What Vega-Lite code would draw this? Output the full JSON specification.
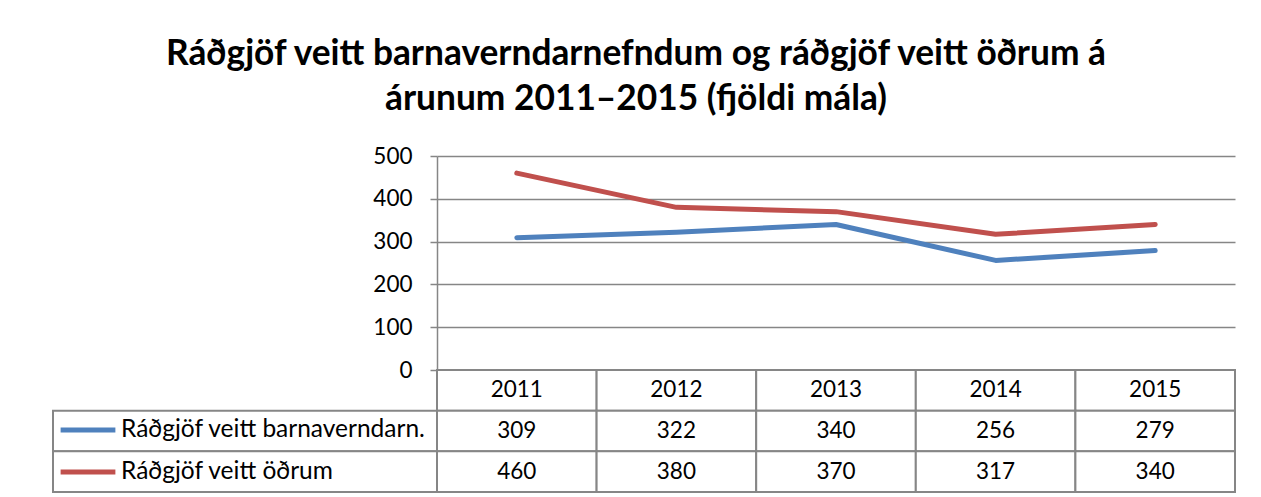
{
  "$schema": "https://vega.github.io/schema/vega-lite/v6.json",
  "background": "white",
  "padding": {"left": 52, "top": 36, "right": 20, "bottom": 5},
  "config": {
    "view": {"stroke": null},
    "font": "Lato",
    "text": {"font": "Lato"}
  },
  "title": {
    "text": ["Ráðgjöf veitt barnaverndarnefndum og ráðgjöf veitt öðrum á", "árunum 2011–2015 (fjöldi mála)"],
    "font": "Lato",
    "fontSize": 35.3,
    "fontWeight": "bold",
    "color": "black",
    "lineHeight": 45,
    "anchor": "middle",
    "dx": -8,
    "offset": 28
  },
  "datasets": {
    "series": [
      {"series": "Ráðgjöf veitt barnaverndarn.", "year": "2011", "value": 309},
      {"series": "Ráðgjöf veitt barnaverndarn.", "year": "2012", "value": 322},
      {"series": "Ráðgjöf veitt barnaverndarn.", "year": "2013", "value": 340},
      {"series": "Ráðgjöf veitt barnaverndarn.", "year": "2014", "value": 256},
      {"series": "Ráðgjöf veitt barnaverndarn.", "year": "2015", "value": 279},
      {"series": "Ráðgjöf veitt öðrum", "year": "2011", "value": 460},
      {"series": "Ráðgjöf veitt öðrum", "year": "2012", "value": 380},
      {"series": "Ráðgjöf veitt öðrum", "year": "2013", "value": 370},
      {"series": "Ráðgjöf veitt öðrum", "year": "2014", "value": 317},
      {"series": "Ráðgjöf veitt öðrum", "year": "2015", "value": 340}
    ],
    "cells": [
      {"row": "hdr", "year": "2011", "label": "2011"},
      {"row": "hdr", "year": "2012", "label": "2012"},
      {"row": "hdr", "year": "2013", "label": "2013"},
      {"row": "hdr", "year": "2014", "label": "2014"},
      {"row": "hdr", "year": "2015", "label": "2015"},
      {"row": "Ráðgjöf veitt barnaverndarn.", "year": "2011", "label": "309"},
      {"row": "Ráðgjöf veitt barnaverndarn.", "year": "2012", "label": "322"},
      {"row": "Ráðgjöf veitt barnaverndarn.", "year": "2013", "label": "340"},
      {"row": "Ráðgjöf veitt barnaverndarn.", "year": "2014", "label": "256"},
      {"row": "Ráðgjöf veitt barnaverndarn.", "year": "2015", "label": "279"},
      {"row": "Ráðgjöf veitt öðrum", "year": "2011", "label": "460"},
      {"row": "Ráðgjöf veitt öðrum", "year": "2012", "label": "380"},
      {"row": "Ráðgjöf veitt öðrum", "year": "2013", "label": "370"},
      {"row": "Ráðgjöf veitt öðrum", "year": "2014", "label": "317"},
      {"row": "Ráðgjöf veitt öðrum", "year": "2015", "label": "340"}
    ],
    "rowlabels": [
      {"row": "Ráðgjöf veitt barnaverndarn."},
      {"row": "Ráðgjöf veitt öðrum"}
    ]
  },
  "columns": 2,
  "spacing": 0,
  "bounds": "flush",
  "concat": [
    {
      "width": 384,
      "height": 214,
      "data": {"values": [{"a": 1}]},
      "mark": {"type": "text", "text": ""},
      "encoding": {}
    },
    {
      "width": 798,
      "height": 214,
      "data": {"name": "series"},
      "mark": {"type": "line", "strokeWidth": 5, "strokeCap": "round", "strokeJoin": "round"},
      "encoding": {
        "x": {"field": "year", "type": "ordinal", "scale": {"type": "point", "padding": 0.5}, "axis": null},
        "y": {
          "field": "value",
          "type": "quantitative",
          "scale": {"domain": [0, 500], "nice": false},
          "axis": {
            "title": null,
            "values": [0, 100, 200, 300, 400, 500],
            "grid": true,
            "gridColor": "#868686",
            "gridWidth": 1.5,
            "domain": true,
            "domainColor": "#868686",
            "domainWidth": 1.5,
            "ticks": true,
            "tickSize": 7,
            "tickColor": "#868686",
            "tickWidth": 1.5,
            "labelPadding": 18,
            "labelFont": "Lato",
            "labelFontSize": 22.5,
            "labelColor": "black"
          }
        },
        "color": {
          "field": "series",
          "type": "nominal",
          "scale": {"domain": ["Ráðgjöf veitt barnaverndarn.", "Ráðgjöf veitt öðrum"], "range": ["#4F81BD", "#C0504D"]},
          "legend": {
            "title": null,
            "orient": "none",
            "legendX": 5,
            "legendY": 244,
            "symbolType": "stroke",
            "symbolSize": 3000,
            "symbolStrokeWidth": 5,
            "labelFont": "Lato",
            "labelFontSize": 24.5,
            "labelColor": "black",
            "labelOffset": 3,
            "labelLimit": 0,
            "rowPadding": 0
          }
        }
      }
    },
    {
      "width": 384,
      "height": 122,
      "data": {"name": "rowlabels"},
      "mark": {"type": "rect", "fill": "white", "stroke": "#868686", "strokeWidth": 2},
      "encoding": {
        "y": {"field": "row", "type": "nominal", "scale": {"type": "band", "domain": ["hdr", "Ráðgjöf veitt barnaverndarn.", "Ráðgjöf veitt öðrum"], "paddingInner": 0, "paddingOuter": 0}, "axis": null}
      }
    },
    {
      "width": 798,
      "height": 122,
      "data": {"name": "cells"},
      "encoding": {
        "x": {"field": "year", "type": "ordinal", "scale": {"type": "band", "paddingInner": 0, "paddingOuter": 0}, "axis": null},
        "y": {"field": "row", "type": "nominal", "scale": {"type": "band", "domain": ["hdr", "Ráðgjöf veitt barnaverndarn.", "Ráðgjöf veitt öðrum"], "paddingInner": 0, "paddingOuter": 0}, "axis": null}
      },
      "layer": [
        {"mark": {"type": "rect", "fill": "white", "stroke": "#868686", "strokeWidth": 2}},
        {"mark": {"type": "text", "font": "Lato", "fontSize": 22.5, "color": "black", "baseline": "middle"}, "encoding": {"text": {"field": "label"}}}
      ]
    }
  ]
}
